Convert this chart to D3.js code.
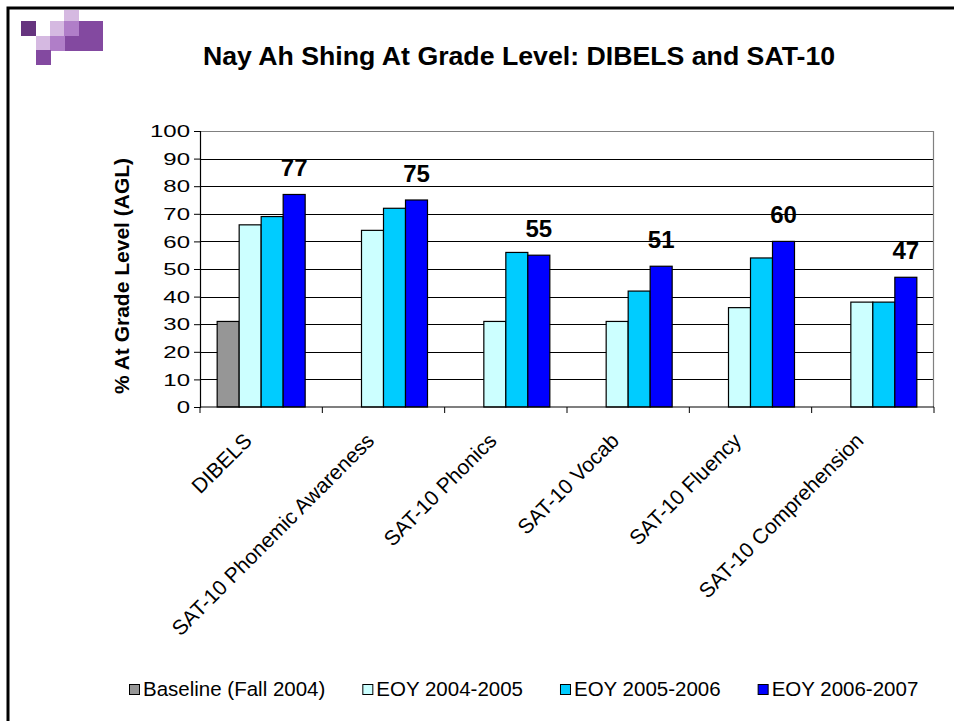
<!DOCTYPE html>
<html>
<head>
<meta charset="utf-8">
<script src="https://cdn.jsdelivr.net/npm/d3@7"></script>
<style>
  html, body { margin: 0; padding: 0; background: #fff; }
  svg { display: block; }
  text { font-family: "Liberation Sans", Arial, sans-serif; fill: #000; }
</style>
</head>
<body>
<svg id="chart" width="954" height="721"></svg>
<script>
// ---------- data ----------
const title = "Nay Ah Shing At Grade Level: DIBELS and SAT-10";
const yTitle = "% At Grade Level (AGL)";
const categories = ["DIBELS", "SAT-10 Phonemic Awareness", "SAT-10 Phonics", "SAT-10 Vocab", "SAT-10 Fluency", "SAT-10 Comprehension"];
const seriesNames = ["Baseline (Fall 2004)", "EOY 2004-2005", "EOY 2005-2006", "EOY 2006-2007"];
const baseline  = [31, null, null, null, null, null];
const eoy2005   = [66, 64, 31, 31, 36, 38];
const eoy2006   = [69, 72, 56, 42, 54, 38];
const eoy2007   = [77, 75, 55, 51, 60, 47];
const seriesColors = ["#969696", "#CCFFFF", "#00CCFF", "#0000FF"];
const yTicks = [0, 10, 20, 30, 40, 50, 60, 70, 80, 90, 100];
const labelledSeries = 3; // data labels shown on the last series

const seriesValues = [baseline, eoy2005, eoy2006, eoy2007];

// ---------- layout ----------
const svg = d3.select("#chart");
const plot = { left: 200, right: 934, top: 131, bottom: 407 };

// frame
svg.append("path")
  .attr("d", `M8,721 V8 H954`)
  .attr("fill", "none").attr("stroke", "#000").attr("stroke-width", 3);

// decorative squares (top-left)
const deco = [
  [21, 21, 15, 15, "#66347F"],
  [64, 10, 15, 11, "#D5B9E1"],
  [50, 21, 14, 15, "#D5B9E1"],
  [64, 21, 15, 15, "#B07EC8"],
  [79, 21, 24, 30, "#8349A0"],
  [36, 36, 14, 14, "#D5B9E1"],
  [50, 36, 15, 15, "#B07EC8"],
  [65, 36, 14, 15, "#8349A0"],
  [36, 50, 15, 15, "#8349A0"]
];
svg.append("g").selectAll("rect").data(deco).join("rect")
  .attr("x", d => d[0]).attr("y", d => d[1]).attr("width", d => d[2]).attr("height", d => d[3])
  .attr("fill", d => d[4]);

// title
svg.append("text")
  .attr("x", 519).attr("y", 65)
  .attr("text-anchor", "middle")
  .style("font-size", "26.7px").style("font-weight", "bold")
  .text(title);

// scales
const x0 = d3.scaleBand().domain(categories)
  .range([plot.left, plot.right]).paddingInner(0.2807).paddingOuter(0.14035);
const x1 = d3.scaleBand().domain(d3.range(seriesNames.length))
  .range([0, x0.bandwidth()]);
const y = d3.scaleLinear().domain([0, 100]).range([plot.bottom, plot.top]);

// gridlines
svg.append("g").selectAll("line").data(yTicks.filter(t => t > 0 && t < 100)).join("line")
  .attr("x1", plot.left).attr("x2", plot.right)
  .attr("y1", d => Math.round(y(d)) + 0.5).attr("y2", d => Math.round(y(d)) + 0.5)
  .attr("stroke", "#000").attr("stroke-width", 1);

// plot border (top/right)
svg.append("path")
  .attr("d", `M${plot.left},${plot.top + 0.5} H${plot.right - 0.5} V${plot.bottom}`)
  .attr("fill", "none").attr("stroke", "#808080").attr("stroke-width", 1.2);

// bars
const groups = svg.append("g").selectAll("g").data(categories).join("g")
  .attr("transform", c => `translate(${x0(c)},0)`);
groups.selectAll("rect")
  .data((c, i) => seriesValues.map((s, k) => ({ k, v: s[i] })).filter(d => d.v != null))
  .join("rect")
  .attr("x", d => x1(d.k)).attr("width", x1.bandwidth())
  .attr("y", d => y(d.v)).attr("height", d => y(0) - y(d.v))
  .attr("fill", d => seriesColors[d.k])
  .attr("stroke", "#000").attr("stroke-width", 1.2);

// data labels
groups.append("text")
  .attr("x", (c) => x1(labelledSeries) + x1.bandwidth() / 2)
  .attr("y", (c, i) => y(seriesValues[labelledSeries][i]) - 18.5)
  .attr("text-anchor", "middle")
  .style("font-size", "24px").style("font-weight", "bold")
  .text((c, i) => seriesValues[labelledSeries][i]);

// y axis
const yAxis = svg.append("g")
  .attr("transform", `translate(${plot.left},0)`)
  .call(d3.axisLeft(y).tickValues(yTicks).tickSize(6).tickPadding(10).tickFormat(d3.format("d")));
yAxis.select(".domain").attr("stroke", "#000").attr("stroke-width", 1.2);
yAxis.selectAll(".tick line").attr("stroke", "#000");
yAxis.selectAll(".tick text")
  .attr("x", null).attr("dy", null)
  .attr("transform", "translate(-10,5.7) scale(1.5,1)")
  .style("font-size", "16px").style("font-family", '"Liberation Sans", Arial, sans-serif');

// x axis
const xBoundaries = d3.range(categories.length + 1).map(i => plot.left + i * x0.step());
svg.append("line")
  .attr("x1", plot.left).attr("x2", plot.right)
  .attr("y1", plot.bottom).attr("y2", plot.bottom)
  .attr("stroke", "#000").attr("stroke-width", 1.2);
svg.append("g").selectAll("line").data(xBoundaries).join("line")
  .attr("x1", d => d).attr("x2", d => d)
  .attr("y1", plot.bottom).attr("y2", plot.bottom + 6)
  .attr("stroke", "#000");

// category labels
svg.append("g").selectAll("text").data(categories).join("text")
  .attr("transform", c => `translate(${x0(c) + x0.bandwidth() / 2 - 8},442) rotate(-45)`)
  .attr("text-anchor", "end")
  .style("font-size", "21px")
  .text(c => c);

// y title
svg.append("text")
  .attr("transform", `translate(129,276) rotate(-90)`)
  .attr("text-anchor", "middle")
  .style("font-size", "21px").style("font-weight", "bold")
  .text(yTitle);

// legend
const legend = svg.append("g").attr("transform", "translate(129,0)");
let lx = 0;
seriesNames.forEach((name, k) => {
  const g = legend.append("g").attr("transform", `translate(${lx},0)`);
  g.append("rect").attr("x", 0.5).attr("y", 684.5).attr("width", 10).attr("height", 10)
    .attr("fill", seriesColors[k]).attr("stroke", "#000").attr("stroke-width", 1);
  const t = g.append("text").attr("x", 14).attr("y", 696)
    .style("font-size", "20.5px").text(name);
  lx += 14 + t.node().getComputedTextLength() + 37;
});
</script>
</body>
</html>
